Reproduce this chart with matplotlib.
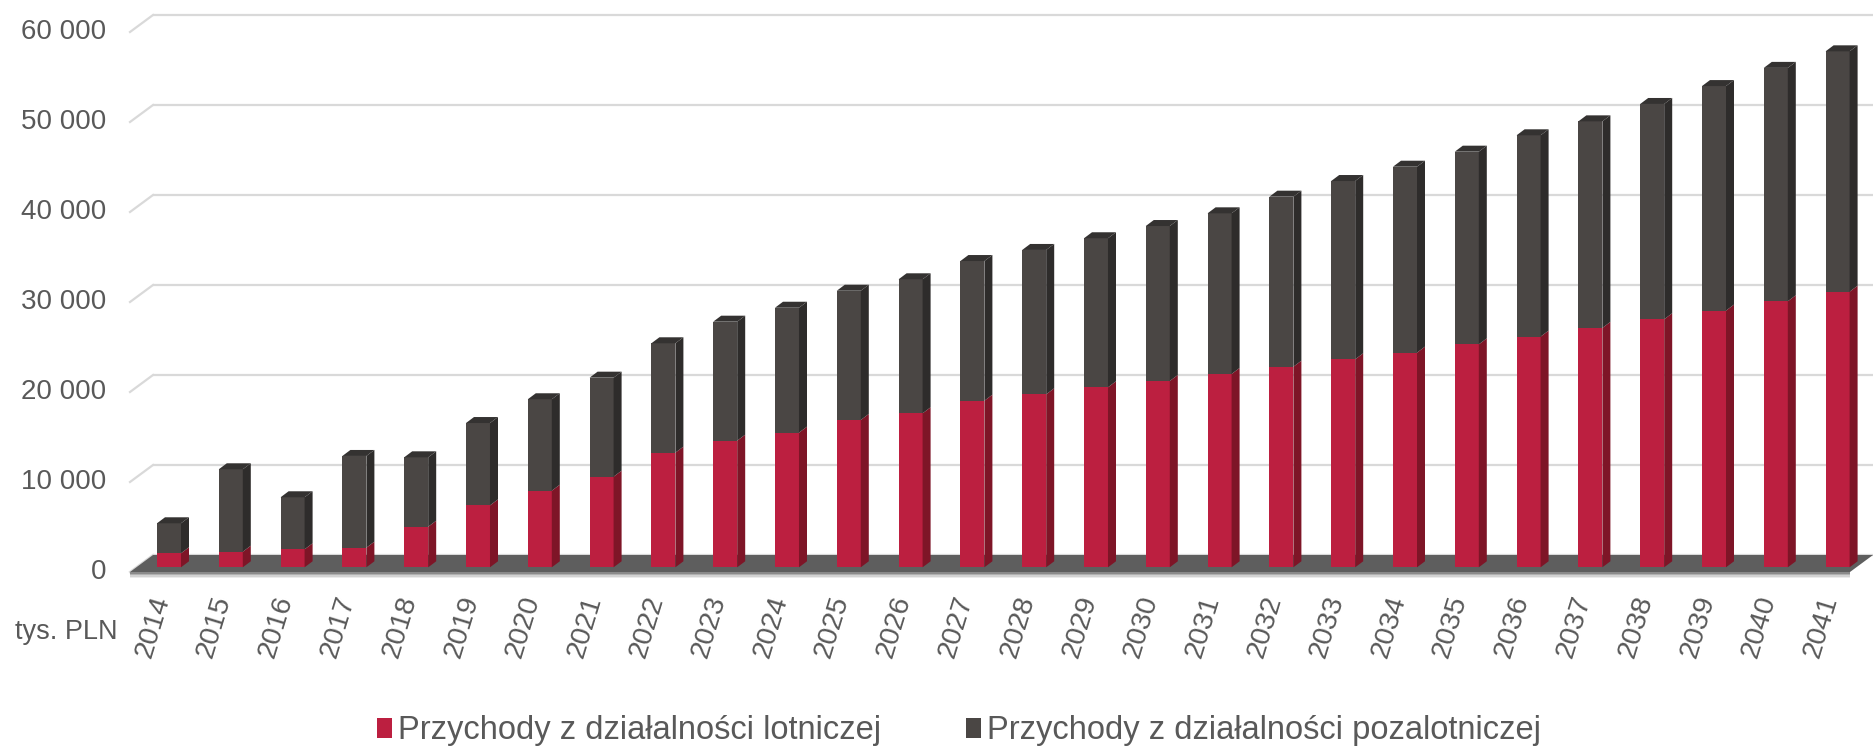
import matplotlib
matplotlib.use('Agg')
import matplotlib.pyplot as plt
from matplotlib.patches import Polygon, Patch

plt.rcParams['font.family'] = ['Liberation Sans', 'DejaVu Sans']

# dane (tys. PLN)
years = [str(y) for y in range(2014, 2042)]
lotnicza = [1560, 1730, 2000, 2180, 4510, 6880, 8510, 10070, 12740, 14070,
            14960, 16370, 17110, 18510, 19220, 20000, 20700, 21480, 22290, 23110,
            23850, 24770, 25630, 26600, 27560, 28520, 29560, 30620]
pozalotnicza = [3330, 9160, 5780, 10190, 7710, 9150, 10160, 11000, 12150, 13220,
                13880, 14360, 14890, 15520, 16040, 16560, 17220, 17850, 18890, 19810,
                20660, 21410, 22370, 22950, 23920, 24950, 25930, 26710]
yticks = [0, 10000, 20000, 30000, 40000, 50000, 60000]
labels = ['Przychody z działalności lotniczej', 'Przychody z działalności pozalotniczej']

RED = '#BC1F40'
RED_SIDE = '#7E1527'
GRAY = '#4A4644'
GRAY_SIDE = '#2E2C2B'
GRAY_TOP = '#343231'
GRID = '#D9D9D9'
TEXT = '#595959'

W, H = 1874, 748
fig = plt.figure(figsize=(W / 100, H / 100), dpi=100)

# obszar wykresu w pikselach (plaszczyzna frontu slupkow)
left_px, right_px = 130, 1874
base_px, top_px = 567.3, 27.3
x0, x1 = -0.631, 27.589
ax = fig.add_axes([left_px / W, (H - base_px) / H, (right_px - left_px) / W, (base_px - top_px) / H])
ax.set_xlim(x0, x1)
ax.set_ylim(0, 60000)
ax.axis('off')

px_x = (right_px - left_px) / (x1 - x0)
px_v = (base_px - top_px) / 60000


def dx(p):
    return p / px_x


def dv(p):
    return p / px_v


def x_at(p):
    return x0 + (p - left_px) / px_x


# siatka (tylna sciana + skos po lewej)
for v in yticks:
    ax.plot([x_at(153), x_at(1874)], [v + dv(12.3)] * 2, color=GRID, lw=1.6,
            clip_on=False, zorder=1, solid_capstyle='butt')
    ax.plot([x_at(130), x_at(153)], [v - dv(4.7), v + dv(12.3)], color=GRID, lw=1.6,
            clip_on=False, zorder=1)
    ax.text(x_at(106), v - dv(4.7), f'{v:,}'.replace(',', ' '), ha='right', va='center',
            fontsize=20, color=TEXT)

# podloga
floor = Polygon([(x_at(130), -dv(4.7)), (x_at(1850), -dv(4.7)),
                 (x_at(1873), dv(12.3)), (x_at(153), dv(12.3))],
                closed=True, facecolor='#5E5E5E', edgecolor='none', clip_on=False, zorder=2)
ax.add_patch(floor)
for k, c in enumerate(['#8A8A8A', '#B0B0B0', '#D2D2D2', '#EBEBEB']):
    ax.add_patch(Polygon([(x_at(130), -dv(4.7 + k * 1.6)), (x_at(1850), -dv(4.7 + k * 1.6)),
                          (x_at(1850), -dv(6.3 + k * 1.6)), (x_at(130), -dv(6.3 + k * 1.6))],
                         closed=True, facecolor=c, edgecolor='none', clip_on=False, zorder=2))

# slupki 3D
w = dx(24)
ddx, ddv = dx(8), dv(6)
idx = list(range(len(years)))
ax.bar(idx, lotnicza, w, color=RED, zorder=3, clip_on=False)
ax.bar(idx, pozalotnicza, w, bottom=lotnicza, color=GRAY, zorder=3, clip_on=False)
for i, (r, g) in enumerate(zip(lotnicza, pozalotnicza)):
    t = r + g
    xr, xl = i + w / 2, i - w / 2
    ax.add_patch(Polygon([(xr, 0), (xr + ddx, ddv), (xr + ddx, r + ddv), (xr, r)],
                         closed=True, facecolor=RED_SIDE, edgecolor='none', zorder=3, clip_on=False))
    ax.add_patch(Polygon([(xr, r), (xr + ddx, r + ddv), (xr + ddx, t + ddv), (xr, t)],
                         closed=True, facecolor=GRAY_SIDE, edgecolor='none', zorder=3, clip_on=False))
    ax.add_patch(Polygon([(xl, t), (xl + ddx, t + ddv), (xr + ddx, t + ddv), (xr, t)],
                         closed=True, facecolor=GRAY_TOP, edgecolor='none', zorder=3, clip_on=False))
    ax.text(i + dx(-7), -dv(29), years[i], rotation=73, rotation_mode='anchor',
            ha='right', va='center', fontsize=20.5, color=TEXT)

fig.text(15 / W, (H - 632) / H, 'tys. PLN', ha='left', va='center', fontsize=19.5, color=TEXT)

fig.legend(handles=[Patch(facecolor=RED), Patch(facecolor=GRAY)], labels=labels,
           loc='center', bbox_to_anchor=(959 / W, (H - 731) / H), ncol=2, frameon=False,
           fontsize=23.5, labelcolor=TEXT, handlelength=0.46, handleheight=0.55,
           handletextpad=0.21, columnspacing=2.57, borderpad=0, borderaxespad=0)

fig.savefig('out.png', dpi=100)
